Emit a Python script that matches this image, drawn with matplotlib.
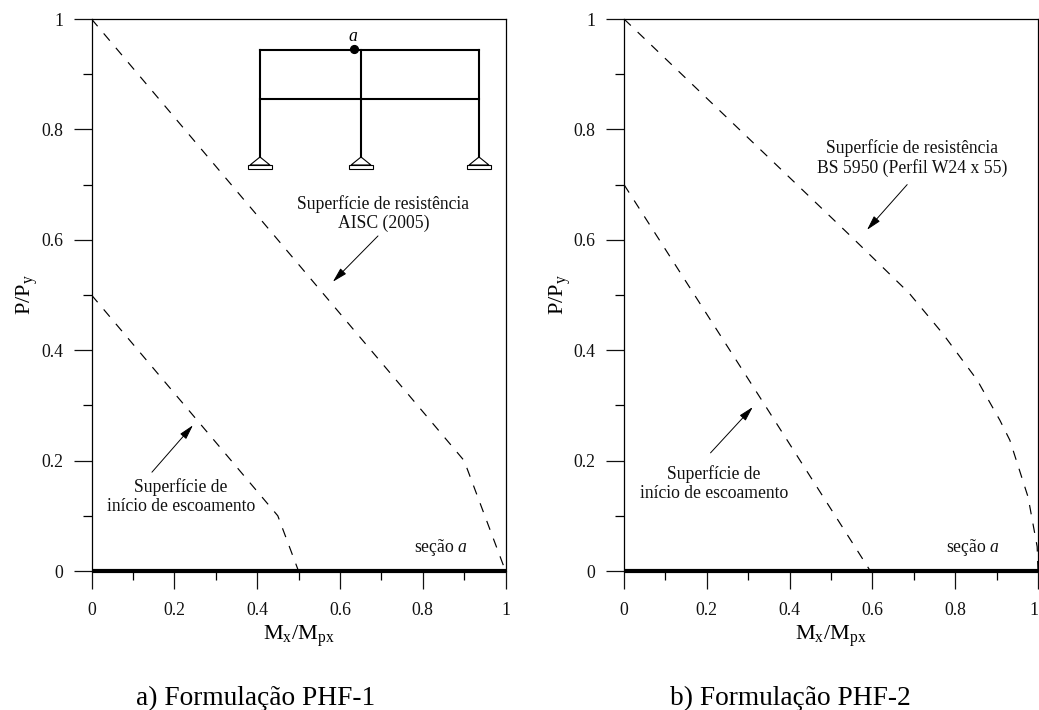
import matplotlib
matplotlib.use("Agg")
import matplotlib.pyplot as plt
from matplotlib.patches import Polygon, Rectangle

plt.rcParams['font.family'] = ['Liberation Serif', 'DejaVu Serif']
plt.rcParams['mathtext.fontset'] = 'custom'
plt.rcParams['mathtext.rm'] = 'Liberation Serif'
plt.rcParams['mathtext.it'] = 'Liberation Serif:italic'

# curves
aisc_x = [0, 0.9, 1]
aisc_y = [1, 0.2, 0]
aisc_yield_x = [0, 0.45, 0.5]
aisc_yield_y = [0.5, 0.1, 0]
bs_x = [0, 0.55, 0.688, 0.77, 0.853, 0.908, 0.932, 0.976, 0.998, 1]
bs_y = [1, 0.605, 0.504, 0.43, 0.346, 0.273, 0.237, 0.134, 0.044, 0]
bs_yield_x = [0, 0.328, 0.595]
bs_yield_y = [0.7, 0.315, 0]

major = [0, 0.2, 0.4, 0.6, 0.8, 1]
minor = [0.1, 0.3, 0.5, 0.7, 0.9]
major_labels = ['0', '0.2', '0.4', '0.6', '0.8', '1']

# frame sketch in the left panel
columns = [0.407, 0.651, 0.936]
beam_top = 0.944
beam_mid = 0.855
column_base = 0.75


def setup_axes(ax, curve1, curve2):
    ax.plot(curve1[0], curve1[1], color='black', lw=0.85, ls=(0, (8, 8)))
    ax.plot(curve2[0], curve2[1], color='black', lw=0.85, ls=(0, (8, 8)))
    ax.plot([0, 1], [0, 0], color='black', lw=3, clip_on=False, zorder=5,
            solid_capstyle='butt')
    ax.set_xlim(0, 1)
    ax.set_ylim(0, 1)
    ax.set_xticks(major)
    ax.set_xticklabels(major_labels)
    ax.set_yticks(major)
    ax.set_yticklabels(major_labels)
    ax.set_xticks(minor, minor=True)
    ax.set_yticks(minor, minor=True)
    ax.tick_params(which='major', length=13, width=0.9, labelsize=12.8, colors='#111111')
    ax.tick_params(axis='x', which='major', pad=9)
    ax.tick_params(axis='y', which='major', pad=7.5)
    ax.tick_params(which='minor', length=6.5, width=0.9)
    ax.spines['bottom'].set_visible(False)
    for name in ['left', 'top', 'right']:
        ax.spines[name].set_linewidth(0.9)
    ax.set_xlabel(r'$\mathregular{M_x/M_{px}}$', fontsize=16, labelpad=3.5)
    ax.set_ylabel(r'$\mathregular{P/P_y}$', fontsize=16, labelpad=0.5)


def arrow(ax, tail, tip):
    ax.annotate('', xy=tip, xytext=tail,
                arrowprops=dict(arrowstyle='-|>,head_length=0.9,head_width=0.24',
                                color='black', lw=0.7, shrinkA=0, shrinkB=0))


def draw_frame(ax):
    lw = 1.5
    for x in columns:
        ax.plot([x, x], [column_base, beam_top], color='black', lw=lw)
        ax.add_patch(Polygon([[x - 0.024, 0.7355], [x, column_base], [x + 0.024, 0.7355]],
                             closed=True, fill=False, ec='black', lw=0.8))
        ax.add_patch(Rectangle((x - 0.029, 0.728), 0.058, 0.0075,
                               fill=False, ec='black', lw=0.8))
    ax.plot([columns[0], columns[2]], [beam_top, beam_top], color='black', lw=lw)
    ax.plot([columns[0], columns[2]], [beam_mid, beam_mid], color='black', lw=lw)
    ax.plot([0.633], [0.946], 'o', color='black', ms=5.6)
    ax.text(0.633, 0.968, r'$\mathit{a}$', ha='center', va='center', fontsize=12.7)


fig = plt.figure(figsize=(10.39, 7.10), dpi=100)
ax1 = fig.add_axes([91.5 / 1039, 139 / 710, 414 / 1039, 552 / 710])
ax2 = fig.add_axes([624 / 1039, 139 / 710, 414 / 1039, 552 / 710])

setup_axes(ax1, (aisc_x, aisc_y), (aisc_yield_x, aisc_yield_y))
setup_axes(ax2, (bs_x, bs_y), (bs_yield_x, bs_yield_y))
draw_frame(ax1)

# the last label of the right panel sits at the edge of the figure
ax2.get_xticklabels()[-1].set_ha('right')

note = dict(ha='center', va='center', fontsize=12.7, linespacing=1.15, color='#111111')
ax1.text(0.705, 0.647, 'Superfície de resistência\nAISC (2005)', **note)
ax1.text(0.216, 0.134, 'Superfície de\ninício de escoamento', **note)
ax1.text(0.844, 0.042, r'seção $\mathit{a}$', **note)
arrow(ax1, (0.692, 0.607), (0.583, 0.524))
arrow(ax1, (0.146, 0.179), (0.245, 0.264))

ax2.text(0.696, 0.748, 'Superfície de resistência\nBS 5950 (Perfil W24 x 55)', **note)
ax2.text(0.217, 0.159, 'Superfície de\ninício de escoamento', **note)
ax2.text(0.843, 0.042, r'seção $\mathit{a}$', **note)
arrow(ax2, (0.684, 0.70), (0.587, 0.618))
arrow(ax2, (0.209, 0.214), (0.311, 0.297))

fig.text(256 / 1039, 1 - 698 / 710, 'a) Formulação PHF-1', ha='center', va='center', fontsize=19.7)
fig.text(790 / 1039, 1 - 698 / 710, 'b) Formulação PHF-2', ha='center', va='center', fontsize=19.7)

fig.savefig('out.png', dpi=100)
